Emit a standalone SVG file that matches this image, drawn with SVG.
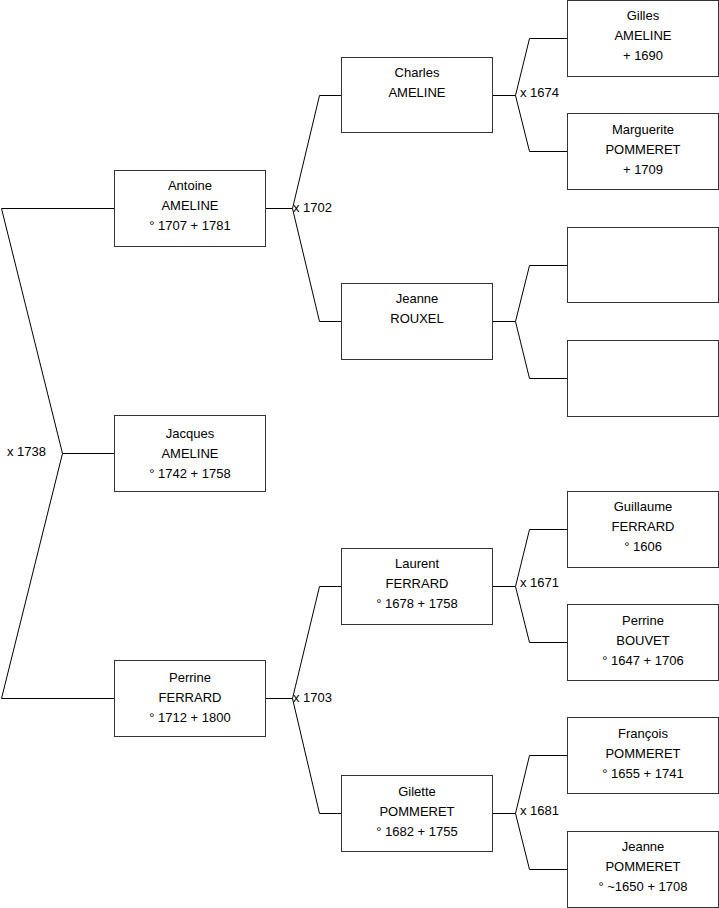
<svg xmlns="http://www.w3.org/2000/svg" width="719" height="908" viewBox="0 0 719 908">
<style>
.box{fill:#fff;stroke:#333;stroke-width:1}
.ln{fill:none;stroke:#000;stroke-width:1}
text{font-family:"Liberation Sans",Arial,sans-serif;font-size:13px;fill:#000}
.c{text-anchor:middle}
</style>
<rect width="719" height="908" fill="#fff"/>
<g id="connectors">
<path class="ln" d="M1.5,208.5H114.5M1.5,208.5L62.5,453.5L1.5,698.5H114.5M62.5,453.5H114.5"/>
<path class="ln" d="M265,208.5H292.5L319.5,95.5H341M292.5,208.5L319.5,321.5H341"/>
<path class="ln" d="M265,698.5H292.5L319.5,586.5H341M292.5,698.5L319.5,813.5H341"/>
<path class="ln" d="M492,95.5H515.5L529.5,38.5H567M515.5,95.5L529.5,151.5H567"/>
<path class="ln" d="M492,321.5H515.5L529.5,265.5H567M515.5,321.5L529.5,378.5H567"/>
<path class="ln" d="M492,586.5H515.5L529.5,529.5H567M515.5,586.5L529.5,642.5H567"/>
<path class="ln" d="M492,813.5H515.5L529.5,755.5H567M515.5,813.5L529.5,869.5H567"/>
<text x="7" y="456">x 1738</text>
<text x="293" y="212">x 1702</text>
<text x="293" y="702">x 1703</text>
<text x="520" y="97">x 1674</text>
<text x="520" y="587">x 1671</text>
<text x="520" y="815">x 1681</text>
</g>
<g id="antoine"><rect class="box" x="114.5" y="170.5" width="151" height="76"/>
<text class="c" x="190" y="190">Antoine</text><text class="c" x="190" y="210">AMELINE</text><text class="c" x="190" y="230">° 1707 + 1781</text></g>
<g id="jacques"><rect class="box" x="114.5" y="415.5" width="151" height="76"/>
<text class="c" x="190" y="438">Jacques</text><text class="c" x="190" y="458">AMELINE</text><text class="c" x="190" y="478">° 1742 + 1758</text></g>
<g id="perrine-ferrard"><rect class="box" x="114.5" y="660.5" width="151" height="76"/>
<text class="c" x="190" y="682">Perrine</text><text class="c" x="190" y="702">FERRARD</text><text class="c" x="190" y="722">° 1712 + 1800</text></g>
<g id="charles"><rect class="box" x="341.5" y="57.5" width="151" height="75"/>
<text class="c" x="417" y="77">Charles</text><text class="c" x="417" y="97">AMELINE</text></g>
<g id="jeanne-rouxel"><rect class="box" x="341.5" y="283.5" width="151" height="76"/>
<text class="c" x="417" y="303">Jeanne</text><text class="c" x="417" y="323">ROUXEL</text></g>
<g id="laurent"><rect class="box" x="341.5" y="548.5" width="151" height="76"/>
<text class="c" x="417" y="568">Laurent</text><text class="c" x="417" y="588">FERRARD</text><text class="c" x="417" y="608">° 1678 + 1758</text></g>
<g id="gilette"><rect class="box" x="341.5" y="775.5" width="151" height="76"/>
<text class="c" x="417" y="796">Gilette</text><text class="c" x="417" y="816">POMMERET</text><text class="c" x="417" y="836">° 1682 + 1755</text></g>
<g id="gilles"><rect class="box" x="567.5" y="0.5" width="151" height="76"/>
<text class="c" x="643" y="20">Gilles</text><text class="c" x="643" y="40">AMELINE</text><text class="c" x="643" y="60"> + 1690</text></g>
<g id="marguerite"><rect class="box" x="567.5" y="113.5" width="151" height="76"/>
<text class="c" x="643" y="134">Marguerite</text><text class="c" x="643" y="154">POMMERET</text><text class="c" x="643" y="174"> + 1709</text></g>
<g id="unknown1"><rect class="box" x="567.5" y="227.5" width="151" height="75"/></g>
<g id="unknown2"><rect class="box" x="567.5" y="340.5" width="151" height="76"/></g>
<g id="guillaume"><rect class="box" x="567.5" y="491.5" width="151" height="76"/>
<text class="c" x="643" y="511">Guillaume</text><text class="c" x="643" y="531">FERRARD</text><text class="c" x="643" y="551">° 1606</text></g>
<g id="perrine-bouvet"><rect class="box" x="567.5" y="604.5" width="151" height="76"/>
<text class="c" x="643" y="625">Perrine</text><text class="c" x="643" y="645">BOUVET</text><text class="c" x="643" y="665">° 1647 + 1706</text></g>
<g id="francois"><rect class="box" x="567.5" y="717.5" width="151" height="76"/>
<text class="c" x="643" y="738">François</text><text class="c" x="643" y="758">POMMERET</text><text class="c" x="643" y="778">° 1655 + 1741</text></g>
<g id="jeanne-pommeret"><rect class="box" x="567.5" y="831.5" width="151" height="76"/>
<text class="c" x="643" y="851">Jeanne</text><text class="c" x="643" y="871">POMMERET</text><text class="c" x="643" y="891">° ~1650 + 1708</text></g>
</svg>
